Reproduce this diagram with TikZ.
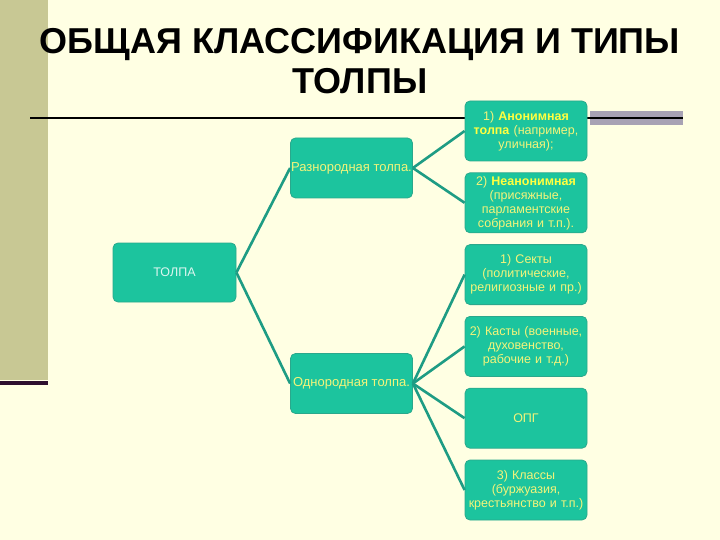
\documentclass[tikz,border=0pt]{standalone}
\usepackage{fontspec}
\setmainfont{Liberation Sans}
\usepackage{xcolor}
\usetikzlibrary{positioning}
\definecolor{paper}{HTML}{FFFFE3}
\definecolor{olive}{HTML}{C8C894}
\definecolor{plum}{HTML}{2E0F2E}
\definecolor{tealbox}{HTML}{1CC49E}
\definecolor{tealedge}{HTML}{2AA88C}
\definecolor{tealline}{HTML}{1E9C84}
\definecolor{lemon}{HTML}{FFFF40}
\definecolor{cream}{HTML}{F4F47A}
\definecolor{bargrey}{HTML}{A8A2B4}
\newcommand{\hl}[1]{\textbf{\color{lemon}#1}}

\begin{document}
\begin{tikzpicture}[x=1pt,y=-1pt,node distance=11pt]
  \tikzset{leaf/.style={draw=tealedge,fill=tealbox,line width=0.8pt,rounded corners=5pt,minimum width=122pt,minimum height=60pt,text width=121pt,align=center,text=cream,inner sep=0.5pt,font=\fontsize{12.5}{14}\selectfont},
    link/.style={draw=tealline,line width=2.6pt}}

  \useasboundingbox (0,0) rectangle (720,540);
  \fill[paper] (0,0) rectangle (720,540);
  \fill[olive] (0,0) rectangle (48,380);
  \fill[plum] (0,381) rectangle (48,385);
  \fill[bargrey] (590,111) rectangle (683,125);
  \draw[line width=2pt] (30,118) -- (683,118);

  \node[align=center,font=\fontsize{36}{40}\selectfont\bfseries] (title) at (360,61)
    {ОБЩАЯ КЛАССИФИКАЦИЯ И ТИПЫ\\ТОЛПЫ};

  \node[leaf,text=white!85!tealbox,minimum width=123pt,minimum height=59pt] (crowd) at (174.5,272.5) {ТОЛПА};
  \node[leaf,text width=,font=\fontsize{13}{14}\selectfont] (mixed) at (351.5,168) {Разнородная толпа.};
  \node[leaf,text width=,font=\fontsize{13}{14}\selectfont] (uniform) at (351.5,383.5) {Однородная толпа.};

  \node[leaf] (anon) at (526,131) {1) \hl{Анонимная}\\\hl{толпа} (например,\\уличная);};
  \node[leaf,below=of anon] (named) {2) \hl{Неанонимная}\\(присяжные,\\парламентские\\собрания и т.п.).};
  \node[leaf,below=of named] (sects) {1) Секты\\(политические,\\религиозные и пр.)};
  \node[leaf,below=of sects] (castes) {2) Касты (военные,\\духовенство,\\рабочие и т.д.)};
  \node[leaf,below=of castes] (opg) {ОПГ};
  \node[leaf,below=of opg] (classes) {3) Классы\\(буржуазия,\\крестьянство и т.п.)};

  \draw[link] (crowd.east) -- (mixed.west);
  \draw[link] (crowd.east) -- (uniform.west);
  \draw[link] (mixed.east) -- (anon.west);
  \draw[link] (mixed.east) -- (named.west);
  \draw[link] (uniform.east) -- (sects.west);
  \draw[link] (uniform.east) -- (castes.west);
  \draw[link] (uniform.east) -- (opg.west);
  \draw[link] (uniform.east) -- (classes.west);
\end{tikzpicture}
\end{document}
